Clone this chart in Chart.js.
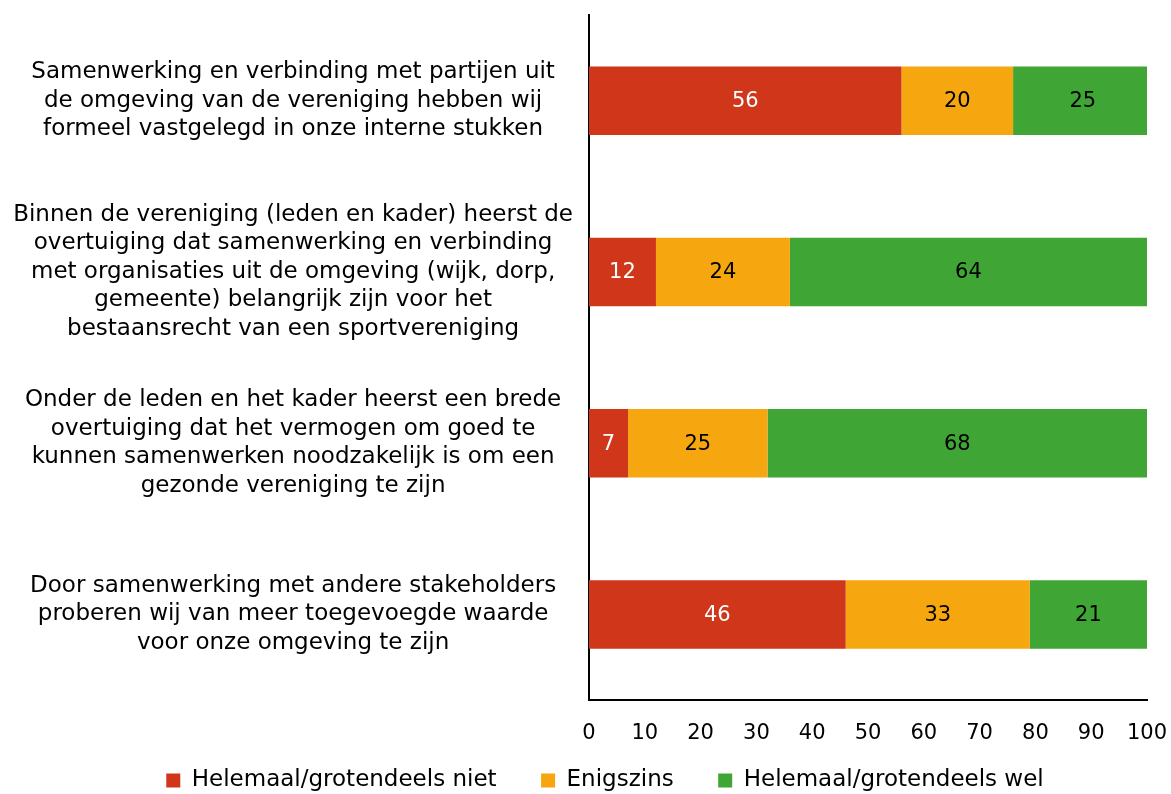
<!DOCTYPE html>
<html>
<head>
<meta charset="utf-8">
<script src="https://cdn.jsdelivr.net/npm/chart.js@4/dist/chart.umd.min.js"></script>
<style>
  html, body { margin: 0; padding: 0; background: #fff; }
  #wrap { width: 1171px; height: 794px; }
</style>
</head>
<body>
<div id="wrap"><canvas id="myChart" width="1171" height="794"></canvas></div>
<script>
// Data
var categories = [
  ["Samenwerking en verbinding met partijen uit", "de omgeving van de vereniging hebben wij", "formeel vastgelegd in onze interne stukken"],
  ["Binnen de vereniging (leden en kader) heerst de", "overtuiging dat samenwerking en verbinding", "met organisaties uit de omgeving (wijk, dorp,", "gemeente) belangrijk zijn voor het", "bestaansrecht van een sportvereniging"],
  ["Onder de leden en het kader heerst een brede", "overtuiging dat het vermogen om goed te", "kunnen samenwerken noodzakelijk is om een", "gezonde vereniging te zijn"],
  ["Door samenwerking met andere stakeholders", "proberen wij van meer toegevoegde waarde", "voor onze omgeving te zijn"]
];
var seriesNames = ["Helemaal/grotendeels niet", "Enigszins", "Helemaal/grotendeels wel"];
var nietValues = [56, 12, 7, 46];
var enigszinsValues = [20, 24, 25, 33];
var welValues = [25, 64, 68, 21];

var colors = ['#CF361A', '#F6A60F', '#3FA535'];
var labelColors = ['#ffffff', '#000000', '#000000'];
var FONT = "'DejaVu Sans', Verdana, sans-serif";

// draw the value in the middle of each segment
var barLabels = {
  id: 'barLabels',
  afterDatasetsDraw: function(chart) {
    var ctx = chart.ctx;
    ctx.save();
    ctx.font = '21px ' + FONT;
    ctx.textAlign = 'center';
    ctx.textBaseline = 'middle';
    chart.data.datasets.forEach(function(ds, i) {
      chart.getDatasetMeta(i).data.forEach(function(bar, j) {
        var p = bar.getProps(['x', 'y', 'base'], true);
        ctx.fillStyle = labelColors[i];
        ctx.fillText(ds.data[j], (p.x + p.base) / 2, p.y + 1);
      });
    });
    ctx.restore();
  }
};

// nudge the legend row a bit to the right
var legendShift = {
  id: 'legendShift',
  afterLayout: function(chart) {
    if (chart.legend) chart.legend.left += 63;
  }
};

new Chart(document.getElementById('myChart'), {
  type: 'bar',
  data: {
    labels: categories,
    datasets: [
      { label: seriesNames[0], data: nietValues, backgroundColor: colors[0] },
      { label: seriesNames[1], data: enigszinsValues, backgroundColor: colors[1] },
      { label: seriesNames[2], data: welValues, backgroundColor: colors[2] }
    ]
  },
  options: {
    indexAxis: 'y',
    responsive: false,
    animation: false,
    datasets: { bar: { categoryPercentage: 1, barPercentage: 0.4 } },
    layout: { padding: { top: 15, right: 24, bottom: -8, left: 0 } },
    plugins: {
      legend: {
        position: 'bottom',
        labels: {
          font: { family: FONT, size: 23 },
          color: '#000',
          boxWidth: 14,
          boxHeight: 14,
          padding: 10,
          // wider gaps between legend items
          generateLabels: function(chart) {
            var items = Chart.defaults.plugins.legend.labels.generateLabels(chart);
            items.forEach(function(it, i) {
              if (i < items.length - 1) it.text = it.text + '\u2003\u2002';
            });
            return items;
          }
        }
      },
      tooltip: { enabled: false }
    },
    scales: {
      x: {
        stacked: true,
        min: 0,
        max: 100,
        afterFit: function(scale) { scale.paddingRight = 0; scale.paddingLeft = 0; scale.height = 59; },
        ticks: { stepSize: 10, color: '#000', font: { family: FONT, size: 21 }, padding: 13 },
        grid: { display: false },
        border: { display: true, color: '#000', width: 2 }
      },
      y: {
        stacked: true,
        afterFit: function(scale) { scale.width = 589; scale.paddingTop = 0; scale.paddingBottom = 0; },
        ticks: {
          color: '#000',
          font: { family: FONT, size: 23, lineHeight: 1.24 },
          crossAlign: 'center',
          padding: 8
        },
        grid: { display: false },
        border: { display: true, color: '#000', width: 2 }
      }
    }
  },
  plugins: [barLabels, legendShift]
});
</script>
</body>
</html>
